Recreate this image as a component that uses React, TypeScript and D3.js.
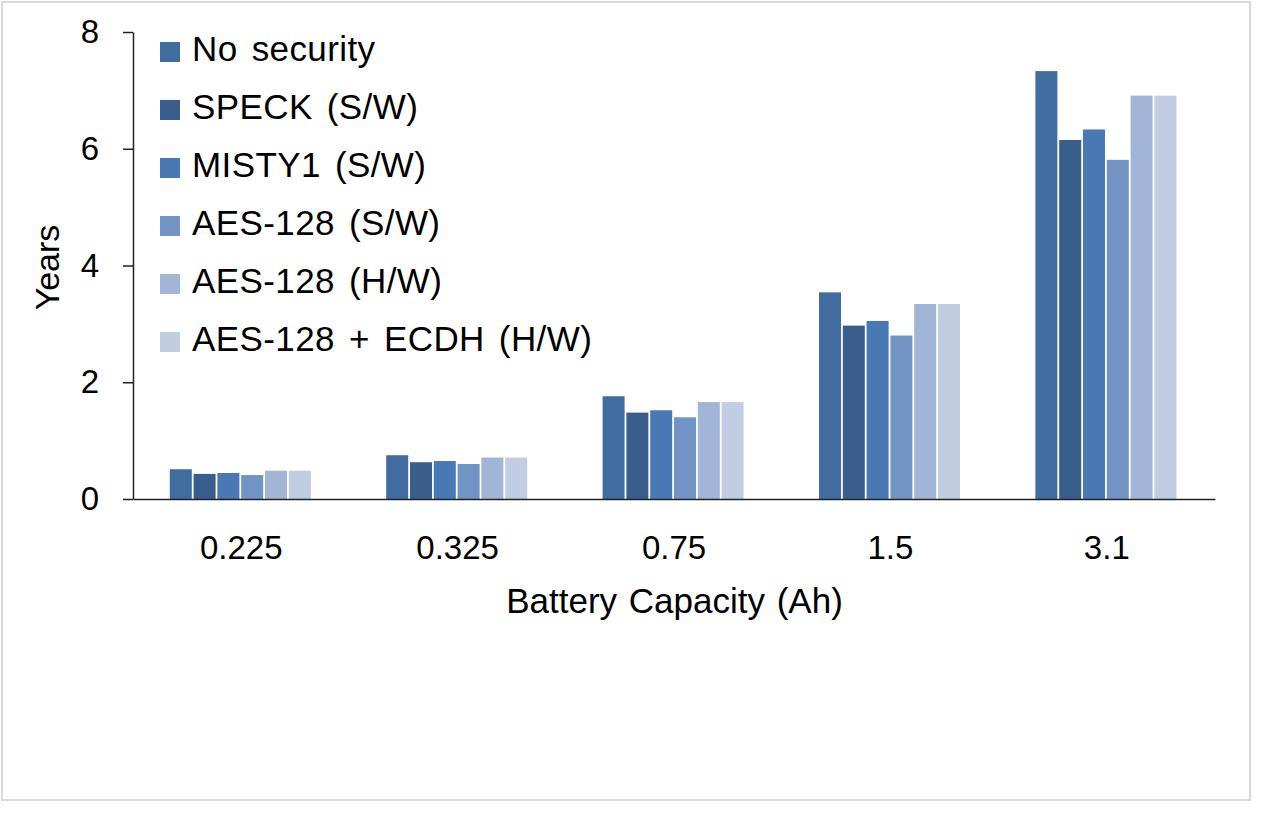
import React from "react";
import * as d3 from "d3";

const capacities = ["0.225", "0.325", "0.75", "1.5", "3.1"];
const seriesNames = [
  "No security",
  "SPECK (S/W)",
  "MISTY1 (S/W)",
  "AES-128 (S/W)",
  "AES-128 (H/W)",
  "AES-128 + ECDH (H/W)",
];
// years of lifetime, one array per series, in the order of capacities
const noSecurity = [0.51, 0.75, 1.76, 3.54, 7.33];
const speck = [0.43, 0.63, 1.48, 2.97, 6.15];
const misty1 = [0.445, 0.65, 1.52, 3.05, 6.33];
const aesSw = [0.41, 0.6, 1.4, 2.8, 5.81];
const aesHw = [0.485, 0.71, 1.66, 3.34, 6.91];
const aesEcdh = [0.485, 0.71, 1.66, 3.34, 6.91];
const yTicks = [0, 2, 4, 6, 8];
const colors = ["#416ca0", "#395e8b", "#4879b4", "#7294c4", "#a1b5d6", "#c1cde2"];

const FONT = "'Liberation Sans', Arial, sans-serif";

const App = () => {
  const svgRef = React.useRef(null);
  const width = 1275;
  const height = 825;

  React.useEffect(() => {
    const series = [noSecurity, speck, misty1, aesSw, aesHw, aesEcdh];
    const svg = d3.select(svgRef.current);
    svg.selectAll("*").remove();

    // light frame round the figure
    svg.append("rect")
      .attr("x", 2).attr("y", 2)
      .attr("width", 1248).attr("height", 798)
      .attr("fill", "white")
      .attr("stroke", "#d9d9d9")
      .attr("stroke-width", 2);

    const left = 133, right = 1215, top = 32, bottom = 499;

    const x0 = d3.scaleBand()
      .domain(capacities)
      .range([left, right])
      .paddingInner(0.34)
      .paddingOuter(0.17);
    const x1 = d3.scaleBand()
      .domain(seriesNames)
      .range([0, x0.bandwidth()]);
    const y = d3.scaleLinear().domain([0, 8]).range([bottom, top]);

    // bars
    seriesNames.forEach((name, si) => {
      svg.append("g")
        .selectAll("rect")
        .data(series[si])
        .enter().append("rect")
        .attr("x", (d, i) => x0(capacities[i]) + x1(name))
        .attr("y", d => y(d))
        .attr("width", x1.bandwidth() - 1.8)
        .attr("height", d => y(0) - y(d))
        .attr("fill", colors[si]);
    });

    // y axis
    const yAxis = d3.axisLeft(y).tickValues(yTicks).tickSize(10).tickPadding(24).tickSizeOuter(0);
    const yg = svg.append("g").attr("transform", `translate(${left},0)`).call(yAxis);
    yg.select(".domain").attr("stroke", "#222").attr("stroke-width", 1.5);
    yg.selectAll("line").attr("stroke", "#222").attr("stroke-width", 1.5);
    yg.selectAll("text")
      .attr("fill", "#000")
      .style("font-family", FONT)
      .style("font-size", "33px");

    // x axis (no ticks)
    const xAxis = d3.axisBottom(x0).tickSize(0).tickPadding(37).tickSizeOuter(0);
    const xg = svg.append("g").attr("transform", `translate(0,${bottom})`).call(xAxis);
    xg.select(".domain").attr("stroke", "#222").attr("stroke-width", 1.5);
    xg.selectAll("text")
      .attr("fill", "#000")
      .style("font-family", FONT)
      .style("font-size", "33px");

    // axis titles
    svg.append("text")
      .attr("x", (left + right) / 2 + 0.5)
      .attr("y", 613)
      .attr("text-anchor", "middle")
      .style("font-family", FONT)
      .style("font-size", "35px")
      .style("word-spacing", "2px")
      .text("Battery Capacity (Ah)");
    svg.append("text")
      .attr("transform", `translate(59,${(top + bottom) / 2 + 2}) rotate(-90)`)
      .attr("text-anchor", "middle")
      .style("font-family", FONT)
      .style("font-size", "34px")
      .text("Years");

    // legend
    const legend = svg.append("g").attr("transform", "translate(160,42)");
    const rows = legend.selectAll("g")
      .data(seriesNames)
      .enter().append("g")
      .attr("transform", (d, i) => `translate(0,${i * 58})`);
    rows.append("rect")
      .attr("width", 20).attr("height", 20)
      .attr("fill", (d, i) => colors[i]);
    rows.append("text")
      .attr("x", 32)
      .attr("y", 19)
      .style("font-family", FONT)
      .style("font-size", "35px")
      .style("word-spacing", "4px")
      .style("letter-spacing", "0.4px")
      .text(d => d);
  }, []);

  return (
    <svg
      ref={svgRef}
      width={width}
      height={height}
      style={{ position: "absolute", left: 0, top: 0, background: "white" }}
    />
  );
};

export default App;
